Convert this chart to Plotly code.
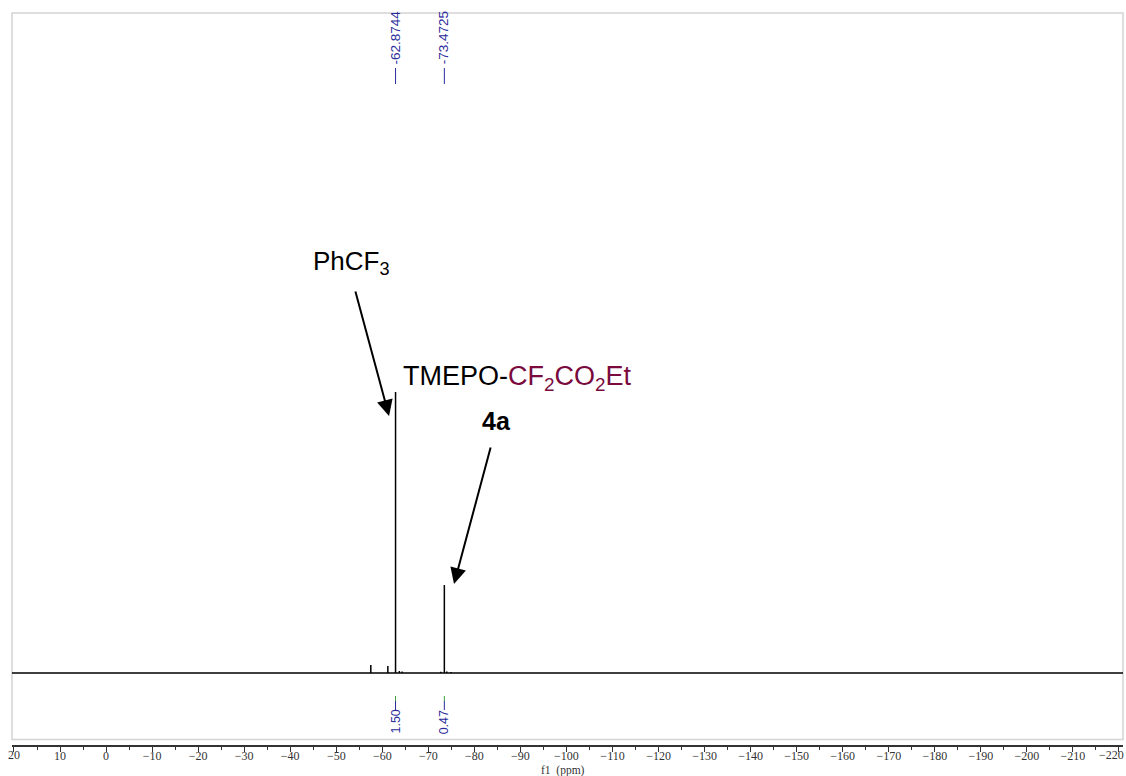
import plotly.graph_objects as go

# ---------------- data ----------------
peak_ppm = [-57.5, -61.2, -62.8744, -63.7, -64.3, -72.7, -73.4725, -74.0, -74.9]
peak_height = [2.85, 2.5, 100.0, 0.7, 0.6, 0.5, 31.3, 0.6, 0.4]

label_ppm = [-62.8744, -73.4725]
label_text = ["-62.8744", "-73.4725"]

integral_ppm = [-62.87, -73.47]
integral_text = ["1.50", "0.47"]

x_ticks = list(range(20, -221, -10))

# ---------------- layout constants ----------------
OFF = 0
W, H = 1126, 776
ML, MR, MT, MB = 12, 3, 13, 31
XR = [20.43, -220.87]
YR = [-25.6, 234.9]
PW, PH = W - ML - MR, H - MT - MB


def px2paper(px):
    return (px - OFF - ML) / PW


def py2paper(py):
    return (H - MB - (py - OFF)) / PH


def fmt(v):
    return str(v).replace("-", "\u2212")


# edge tick labels are drawn as annotations so they are not hidden / overflowing
edge_ticks = [x_ticks[0], x_ticks[-1]]
tick_text = ["" if v in edge_ticks else fmt(v) for v in x_ticks]

# build stick spectrum from peak list
xs, ys = [XR[0]], [0.0]
for p, h in sorted(zip(peak_ppm, peak_height), key=lambda t: -t[0]):
    xs += [p, p, p]
    ys += [0.0, h, 0.0]
xs.append(XR[1])
ys.append(0.0)

fig = go.Figure()
fig.add_trace(go.Scatter(x=xs, y=ys, mode="lines",
                         line=dict(color="black", width=1.5),
                         hoverinfo="skip", showlegend=False))

blue = "#2a2a9a"
sans = "Liberation Sans, Arial, sans-serif"
serif = "Liberation Serif, DejaVu Serif, serif"
shapes = []
annotations = []

# frame
shapes.append(dict(type="rect", xref="paper", yref="paper", x0=0, x1=1,
                   y0=py2paper(739.5), y1=1,
                   line=dict(color="#d4d4d4", width=1.5), layer="below"))

# peak labels at top
for p, t in zip(label_ppm, label_text):
    shapes.append(dict(type="line", xref="x", yref="paper", x0=p, x1=p,
                       y0=py2paper(84), y1=py2paper(68),
                       line=dict(color=blue, width=1)))
    annotations.append(dict(x=p, y=py2paper(38), xref="x", yref="paper",
                            text=t, textangle=-90, showarrow=False,
                            font=dict(family=sans, size=13.5, color=blue),
                            xanchor="center", yanchor="middle"))

# integrals at bottom
for p, t in zip(integral_ppm, integral_text):
    shapes.append(dict(type="line", xref="x", yref="paper", x0=p, x1=p,
                       y0=py2paper(710), y1=py2paper(701),
                       line=dict(color=blue, width=1)))
    shapes.append(dict(type="line", xref="x", yref="paper", x0=p, x1=p,
                       y0=py2paper(701), y1=py2paper(696),
                       line=dict(color="#3aa040", width=1)))
    annotations.append(dict(x=p, y=py2paper(722), xref="x", yref="paper",
                            text=t, textangle=-90, showarrow=False,
                            font=dict(family=sans, size=12.5, color=blue),
                            xanchor="center", yanchor="middle"))

# text labels
annotations.append(dict(x=px2paper(311), y=py2paper(262), xref="paper", yref="paper",
                        text="PhCF<sub>3</sub>", showarrow=False,
                        font=dict(family=sans, size=26, color="black"),
                        xanchor="left", yanchor="middle"))
annotations.append(dict(x=px2paper(401), y=py2paper(378), xref="paper", yref="paper",
                        text="TMEPO-<span style='color:#7a0a3e'>CF<sub>2</sub>CO<sub>2</sub>Et</span>",
                        showarrow=False,
                        font=dict(family=sans, size=27, color="black"),
                        xanchor="left", yanchor="middle"))
annotations.append(dict(x=px2paper(497), y=py2paper(421), xref="paper", yref="paper",
                        text="<b>4a</b>", showarrow=False,
                        font=dict(family=sans, size=25, color="black"),
                        xanchor="center", yanchor="middle"))
# axis title
annotations.append(dict(x=px2paper(563), y=py2paper(770), xref="paper", yref="paper",
                        text="f1  (ppm)", showarrow=False,
                        font=dict(family=serif, size=11.5, color="#333"),
                        xanchor="center", yanchor="middle"))
# edge tick labels
annotations.append(dict(x=edge_ticks[0], y=py2paper(755), xref="x", yref="paper",
                        text=fmt(edge_ticks[0]), showarrow=False,
                        font=dict(family=serif, size=12, color="#333"),
                        xanchor="center", yanchor="middle"))
annotations.append(dict(x=px2paper(1126), y=py2paper(755), xref="paper", yref="paper",
                        text=fmt(edge_ticks[1]), showarrow=False,
                        font=dict(family=serif, size=12, color="#333"),
                        xanchor="right", yanchor="middle"))

# arrows
annotations.append(dict(x=-61.46, y=91.5, ax=-54.07, ay=136.3, xref="x", yref="y",
                        axref="x", ayref="y", text="", showarrow=True,
                        arrowhead=2, arrowsize=1.6, arrowwidth=2, arrowcolor="black"))
annotations.append(dict(x=-75.57, y=31.7, ax=-83.61, ay=80.8, xref="x", yref="y",
                        axref="x", ayref="y", text="", showarrow=True,
                        arrowhead=2, arrowsize=1.6, arrowwidth=2, arrowcolor="black"))

fig.update_layout(
    width=W, height=H,
    margin=dict(l=ML, r=MR, t=MT, b=MB, pad=0),
    paper_bgcolor="white", plot_bgcolor="white",
    shapes=shapes, annotations=annotations,
    xaxis=dict(range=XR, tickmode="array", tickvals=x_ticks, ticktext=tick_text,
               ticks="outside", ticklen=5, tickwidth=1, tickcolor="#333",
               showline=True, linecolor="#333", linewidth=1.5,
               showgrid=False, zeroline=False, ticklabelstandoff=-6,
               minor=dict(dtick=5, tick0=0, ticks="outside", ticklen=3,
                          tickcolor="#333", showgrid=False),
               tickfont=dict(family=serif, size=12, color="#333")),
    yaxis=dict(range=YR, visible=False, showgrid=False, zeroline=False),
)

fig.write_html("out.html",
               config={"displayModeBar": False},
               post_script="document.body.style.margin='0';"
                           "document.body.style.overflow='hidden';")
